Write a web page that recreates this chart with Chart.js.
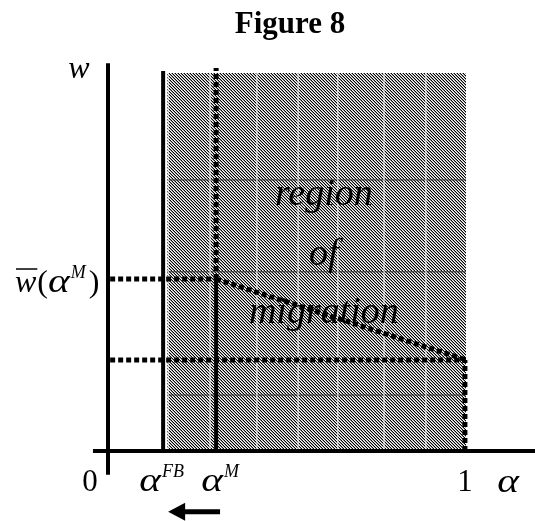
<!DOCTYPE html>
<html>
<head>
<meta charset="utf-8">
<script src="https://cdn.jsdelivr.net/npm/chart.js@4.4.1/dist/chart.umd.min.js"></script>
<style>
  html, body { margin: 0; padding: 0; background: #fff; }
  canvas { display: block; }
</style>
</head>
<body>
<canvas id="fig" width="535" height="521"></canvas>
<script>
// x is alpha (0 at the w axis, 1 at the right end of the region), y is w (1 = top of region)
const tickValues = [0, 0.154, 0.302, 1];
const tickLabels = ['0', 'α', 'α', '1'];
const tickSups = ['', 'FB', 'M', ''];

const levelValues = [0.455, 0.241];      // w-bar(alpha^M), lower wage level
const frontierX = [0.302, 1.0];
const frontierY = [0.455, 0.241];

const regionX = [0.165, 1.0];
const regionTop = [1.0, 1.0];
const gridX = [0.168, 0.285, 0.416, 0.531, 0.642, 0.771, 0.888];
const gridY = [0.148, 0.474, 0.717];

const axisX = [-0.042, 1.193];
const axisY = [-0.063, 1.026];
const lineTops = [1.005, 1.013];          // alpha^FB line, alpha^M dotted line

const regionWords = ['region', 'of', 'migration'];

function hatch() {
    const c = document.createElement('canvas');
    c.width = 3; c.height = 3;
    const g = c.getContext('2d');
    const shades = ['#000', '#fff', '#999'];
    for (let j = 0; j < 3; j++) {
        for (let i = 0; i < 3; i++) {
            g.fillStyle = shades[(((i - j) % 3) + 3) % 3];
            g.fillRect(i, j, 1, 1);
        }
    }
    return g.createPattern(c, 'repeat');
}

// Chart.js paints higher "order" first, so the region sits under everything else
function seg(points, extra) {
    return Object.assign({
        data: points,
        showLine: true,
        pointRadius: 0,
        borderColor: '#000',
        borderWidth: 4,
        fill: false,
        clip: false,
        order: 0
    }, extra || {});
}

const dotted = { borderWidth: 5, borderDash: [5, 3] };

const datasets = [];
// shaded region
datasets.push(seg(regionX.map((x, i) => ({ x: x, y: regionTop[i] })), {
    borderWidth: 0, fill: 'origin', backgroundColor: hatch(), order: 10
}));
gridX.forEach(g => datasets.push(seg([{ x: g, y: 0 }, { x: g, y: regionTop[0] }], { borderColor: '#fff', borderWidth: 1, order: 5 })));
gridY.forEach(g => datasets.push(seg([{ x: regionX[0], y: g }, { x: regionX[1], y: g }], { borderColor: '#333', borderWidth: 1, order: 5 })));

// axes
datasets.push(seg([{ x: axisX[0], y: 0 }, { x: axisX[1], y: 0 }]));
datasets.push(seg([{ x: 0, y: axisY[0] }, { x: 0, y: axisY[1] }]));

// alpha^FB line
datasets.push(seg([{ x: tickValues[1], y: 0 }, { x: tickValues[1], y: lineTops[0] }]));
// alpha^M: solid below w-bar, dotted above
datasets.push(seg([{ x: tickValues[2], y: 0 }, { x: tickValues[2], y: levelValues[0] }]));
datasets.push(seg([{ x: tickValues[2], y: levelValues[0] }, { x: tickValues[2], y: lineTops[1] }], dotted));

// dotted wage levels
datasets.push(seg([{ x: 0.006, y: levelValues[0] }, { x: tickValues[2], y: levelValues[0] }], dotted));
datasets.push(seg([{ x: 0.006, y: levelValues[1] }, { x: frontierX[1], y: levelValues[1] }], dotted));
// frontier
datasets.push(seg(frontierX.map((x, i) => ({ x: x, y: frontierY[i] })), dotted));
datasets.push(seg([{ x: 0.997, y: 0 }, { x: 0.997, y: levelValues[1] }], dotted));

const SERIF = '"Liberation Serif", "Times New Roman", serif';

// the alpha in the original is a wide Symbol-style glyph: stretch it sideways
function wideAlpha(ctx, px, base, size, align) {
    ctx.save();
    ctx.font = 'italic ' + size + 'px ' + SERIF;
    const w = ctx.measureText('α').width * 1.25;
    const left = align === 'center' ? px - w / 2 : px;
    ctx.translate(left, base);
    ctx.scale(1.25, 1);
    ctx.textAlign = 'left';
    ctx.fillText('α', 0, 0);
    ctx.restore();
    return w;
}

const textPlugin = {
    id: 'figText',
    afterDatasetsDraw(chart) {
        const ctx = chart.ctx;
        const x = chart.scales.x, y = chart.scales.y;
        ctx.save();
        ctx.fillStyle = '#000';
        ctx.strokeStyle = '#000';
        ctx.textBaseline = 'alphabetic';

        // title
        ctx.font = 'bold 31px ' + SERIF;
        ctx.textAlign = 'center';
        ctx.fillText('Figure 8', 290, 33);

        // axis names
        ctx.font = 'italic 32px ' + SERIF;
        ctx.fillText('w', x.getPixelForValue(0) - 29, y.getPixelForValue(1) + 5);
        wideAlpha(ctx, x.getPixelForValue(1) + 42, y.getPixelForValue(0) + 41, 33, 'center');

        // tick labels under the alpha axis
        const base = y.getPixelForValue(0) + 40;
        const shift = [-18, -13, -4, -1];
        tickValues.forEach((v, i) => {
            const cx = x.getPixelForValue(v) + shift[i];
            let w;
            if (tickLabels[i] === 'α') {
                w = wideAlpha(ctx, cx, base, 33, 'center');
            } else {
                ctx.textAlign = 'center';
                ctx.font = '31px ' + SERIF;
                ctx.fillText(tickLabels[i], cx, base);
                w = ctx.measureText(tickLabels[i]).width;
            }
            if (tickSups[i]) {
                ctx.textAlign = 'left';
                ctx.font = 'italic 18px ' + SERIF;
                ctx.fillText(tickSups[i], cx + w / 2 + 1, base - 14);
            }
        });

        // w-bar(alpha^M) label
        const ly = y.getPixelForValue(levelValues[0]) + 13;
        let lx = 15;
        ctx.textAlign = 'left';
        ctx.font = 'italic 32px ' + SERIF;
        const ww = ctx.measureText('w').width;
        ctx.fillText('w', lx, ly);
        ctx.lineWidth = 1.5;
        ctx.beginPath();
        ctx.moveTo(lx + 1, ly - 23);
        ctx.lineTo(lx + ww + 1, ly - 23);
        ctx.stroke();
        lx += ww + 1;
        ctx.font = '32px ' + SERIF;
        ctx.fillText('(', lx, ly);
        lx += ctx.measureText('(').width;
        lx += wideAlpha(ctx, lx, ly, 33, 'left') + 1;
        ctx.font = 'italic 18px ' + SERIF;
        ctx.fillText('M', lx, ly - 14);
        lx += ctx.measureText('M').width + 3;
        ctx.font = '32px ' + SERIF;
        ctx.fillText(')', lx, ly);

        // words inside the region
        const wordBase = [0.651, 0.492, 0.339];
        ctx.font = 'italic 38px ' + SERIF;
        ctx.textAlign = 'center';
        regionWords.forEach((w, i) => {
            ctx.fillText(w, x.getPixelForValue(0.603), y.getPixelForValue(wordBase[i]));
        });

        // arrow pointing left, under alpha^FB
        const ay = y.getPixelForValue(-0.161);
        const tip = x.getPixelForValue(0.168);
        const tail = x.getPixelForValue(0.313);
        ctx.lineWidth = 5;
        ctx.beginPath();
        ctx.moveTo(tail, ay);
        ctx.lineTo(tip + 12, ay);
        ctx.stroke();
        ctx.beginPath();
        ctx.moveTo(tip, ay);
        ctx.lineTo(tip + 17, ay - 9);
        ctx.lineTo(tip + 17, ay + 9);
        ctx.closePath();
        ctx.fill();

        ctx.restore();
    }
};

const fig = new Chart(document.getElementById('fig').getContext('2d'), {
    type: 'scatter',
    data: { datasets: datasets },
    options: {
        responsive: false,
        animation: false,
        layout: { padding: 0 },
        plugins: { legend: { display: false }, tooltip: { enabled: false } },
        scales: {
            x: { type: 'linear', min: -108 / 358, max: 427 / 358, display: false },
            y: { type: 'linear', min: -70 / 378, max: 451 / 378, display: false }
        }
    },
    plugins: [textPlugin]
});
</script>
</body>
</html>
